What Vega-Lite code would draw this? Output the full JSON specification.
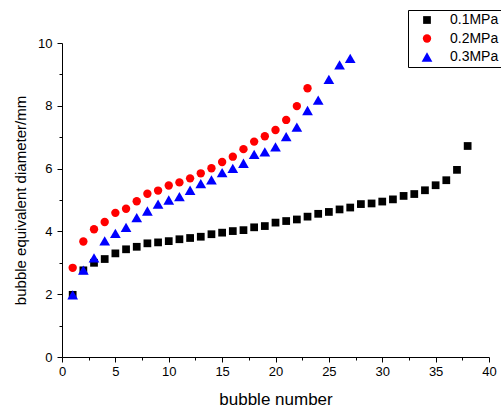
{
  "$schema": "https://vega.github.io/schema/vega-lite/v6.json",
  "width": 427,
  "height": 314,
  "autosize": "none",
  "padding": {"left": 62, "top": 43, "right": 12, "bottom": 55},
  "background": "white",
  "config": {
    "view": {"stroke": null},
    "font": "Liberation Sans",
    "axis": {
      "grid": false,
      "domainColor": "#000000",
      "tickColor": "#000000",
      "labelColor": "#000000",
      "titleColor": "#000000",
      "labelFont": "Liberation Sans",
      "titleFont": "Liberation Sans",
      "titleFontWeight": "normal",
      "labelFontSize": 13,
      "domainWidth": 1,
      "tickWidth": 1,
      "labelFlush": false,
      "labelOverlap": false
    },
    "legend": {
      "labelFont": "Liberation Sans",
      "labelColor": "#000000"
    }
  },
  "data": {
    "values": [
      {"n": 1, "d": 1.98, "series": "0.1MPa"},
      {"n": 2, "d": 2.76, "series": "0.1MPa"},
      {"n": 3, "d": 3.0, "series": "0.1MPa"},
      {"n": 4, "d": 3.12, "series": "0.1MPa"},
      {"n": 5, "d": 3.3, "series": "0.1MPa"},
      {"n": 6, "d": 3.43, "series": "0.1MPa"},
      {"n": 7, "d": 3.51, "series": "0.1MPa"},
      {"n": 8, "d": 3.62, "series": "0.1MPa"},
      {"n": 9, "d": 3.65, "series": "0.1MPa"},
      {"n": 10, "d": 3.69, "series": "0.1MPa"},
      {"n": 11, "d": 3.75, "series": "0.1MPa"},
      {"n": 12, "d": 3.79, "series": "0.1MPa"},
      {"n": 13, "d": 3.83, "series": "0.1MPa"},
      {"n": 14, "d": 3.91, "series": "0.1MPa"},
      {"n": 15, "d": 3.96, "series": "0.1MPa"},
      {"n": 16, "d": 4.01, "series": "0.1MPa"},
      {"n": 17, "d": 4.04, "series": "0.1MPa"},
      {"n": 18, "d": 4.13, "series": "0.1MPa"},
      {"n": 19, "d": 4.17, "series": "0.1MPa"},
      {"n": 20, "d": 4.28, "series": "0.1MPa"},
      {"n": 21, "d": 4.33, "series": "0.1MPa"},
      {"n": 22, "d": 4.38, "series": "0.1MPa"},
      {"n": 23, "d": 4.47, "series": "0.1MPa"},
      {"n": 24, "d": 4.56, "series": "0.1MPa"},
      {"n": 25, "d": 4.62, "series": "0.1MPa"},
      {"n": 26, "d": 4.7, "series": "0.1MPa"},
      {"n": 27, "d": 4.76, "series": "0.1MPa"},
      {"n": 28, "d": 4.87, "series": "0.1MPa"},
      {"n": 29, "d": 4.89, "series": "0.1MPa"},
      {"n": 30, "d": 4.95, "series": "0.1MPa"},
      {"n": 31, "d": 5.02, "series": "0.1MPa"},
      {"n": 32, "d": 5.13, "series": "0.1MPa"},
      {"n": 33, "d": 5.19, "series": "0.1MPa"},
      {"n": 34, "d": 5.31, "series": "0.1MPa"},
      {"n": 35, "d": 5.47, "series": "0.1MPa"},
      {"n": 36, "d": 5.63, "series": "0.1MPa"},
      {"n": 37, "d": 5.96, "series": "0.1MPa"},
      {"n": 38, "d": 6.72, "series": "0.1MPa"},
      {"n": 1, "d": 2.84, "series": "0.2MPa"},
      {"n": 2, "d": 3.68, "series": "0.2MPa"},
      {"n": 3, "d": 4.07, "series": "0.2MPa"},
      {"n": 4, "d": 4.3, "series": "0.2MPa"},
      {"n": 5, "d": 4.59, "series": "0.2MPa"},
      {"n": 6, "d": 4.72, "series": "0.2MPa"},
      {"n": 7, "d": 4.96, "series": "0.2MPa"},
      {"n": 8, "d": 5.2, "series": "0.2MPa"},
      {"n": 9, "d": 5.3, "series": "0.2MPa"},
      {"n": 10, "d": 5.46, "series": "0.2MPa"},
      {"n": 11, "d": 5.56, "series": "0.2MPa"},
      {"n": 12, "d": 5.69, "series": "0.2MPa"},
      {"n": 13, "d": 5.85, "series": "0.2MPa"},
      {"n": 14, "d": 6.01, "series": "0.2MPa"},
      {"n": 15, "d": 6.21, "series": "0.2MPa"},
      {"n": 16, "d": 6.38, "series": "0.2MPa"},
      {"n": 17, "d": 6.62, "series": "0.2MPa"},
      {"n": 18, "d": 6.86, "series": "0.2MPa"},
      {"n": 19, "d": 7.03, "series": "0.2MPa"},
      {"n": 20, "d": 7.23, "series": "0.2MPa"},
      {"n": 21, "d": 7.55, "series": "0.2MPa"},
      {"n": 22, "d": 7.99, "series": "0.2MPa"},
      {"n": 23, "d": 8.56, "series": "0.2MPa"},
      {"n": 1, "d": 1.98, "series": "0.3MPa"},
      {"n": 2, "d": 2.77, "series": "0.3MPa"},
      {"n": 3, "d": 3.16, "series": "0.3MPa"},
      {"n": 4, "d": 3.7, "series": "0.3MPa"},
      {"n": 5, "d": 3.94, "series": "0.3MPa"},
      {"n": 6, "d": 4.13, "series": "0.3MPa"},
      {"n": 7, "d": 4.44, "series": "0.3MPa"},
      {"n": 8, "d": 4.65, "series": "0.3MPa"},
      {"n": 9, "d": 4.87, "series": "0.3MPa"},
      {"n": 10, "d": 5.0, "series": "0.3MPa"},
      {"n": 11, "d": 5.11, "series": "0.3MPa"},
      {"n": 12, "d": 5.31, "series": "0.3MPa"},
      {"n": 13, "d": 5.52, "series": "0.3MPa"},
      {"n": 14, "d": 5.64, "series": "0.3MPa"},
      {"n": 15, "d": 5.87, "series": "0.3MPa"},
      {"n": 16, "d": 6.01, "series": "0.3MPa"},
      {"n": 17, "d": 6.17, "series": "0.3MPa"},
      {"n": 18, "d": 6.45, "series": "0.3MPa"},
      {"n": 19, "d": 6.53, "series": "0.3MPa"},
      {"n": 20, "d": 6.69, "series": "0.3MPa"},
      {"n": 21, "d": 7.02, "series": "0.3MPa"},
      {"n": 22, "d": 7.32, "series": "0.3MPa"},
      {"n": 23, "d": 7.85, "series": "0.3MPa"},
      {"n": 24, "d": 8.18, "series": "0.3MPa"},
      {"n": 25, "d": 8.84, "series": "0.3MPa"},
      {"n": 26, "d": 9.3, "series": "0.3MPa"},
      {"n": 27, "d": 9.51, "series": "0.3MPa"}
    ]
  },
  "layer": [
    {
      "mark": {"type": "point", "filled": true, "opacity": 1},
      "encoding": {
        "x": {
          "field": "n",
          "type": "quantitative",
          "scale": {"domain": [0, 40], "nice": false, "zero": false},
          "axis": {
            "orient": "bottom",
            "values": [0, 5, 10, 15, 20, 25, 30, 35, 40],
            "tickSize": 5,
            "labelPadding": 3,
            "title": "bubble number",
            "titleFontSize": 17,
            "titlePadding": 13
          }
        },
        "y": {
          "field": "d",
          "type": "quantitative",
          "scale": {"domain": [0, 10], "nice": false, "zero": false},
          "axis": {
            "orient": "left",
            "values": [0, 2, 4, 6, 8, 10],
            "tickSize": 5,
            "labelPadding": 5,
            "title": "bubble equivalent diameter/mm",
            "titleFontSize": 15,
            "titlePadding": 9
          }
        },
        "size": {
          "field": "series",
          "type": "nominal",
          "scale": {"type": "ordinal", "domain": ["0.1MPa", "0.2MPa", "0.3MPa"], "range": [60, 70, 115]},
          "legend": null
        },
        "color": {
          "field": "series",
          "type": "nominal",
          "scale": {"domain": ["0.1MPa", "0.2MPa", "0.3MPa"], "range": ["#000000", "#ff0000", "#0000ff"]},
          "legend": {
            "title": null,
            "orient": "none",
            "legendX": 346,
            "legendY": -33,
            "strokeColor": "#000000",
            "fillColor": "#ffffff",
            "padding": 3,
            "symbolOffset": 9,
            "labelOffset": 16,
            "labelFontSize": 14,
            "symbolSize": 95,
            "rowPadding": 4.5,
            "symbolStrokeWidth": 0
          }
        },
        "shape": {
          "field": "series",
          "type": "nominal",
          "scale": {"domain": ["0.1MPa", "0.2MPa", "0.3MPa"], "range": ["square", "circle", "triangle-up"]},
          "legend": {
            "title": null,
            "orient": "none",
            "legendX": 346,
            "legendY": -33,
            "strokeColor": "#000000",
            "fillColor": "#ffffff",
            "padding": 3,
            "symbolOffset": 9,
            "labelOffset": 16,
            "labelFontSize": 14,
            "symbolSize": 95,
            "rowPadding": 4.5,
            "symbolStrokeWidth": 0
          }
        }
      }
    },
    {
      "mark": {"type": "point", "opacity": 0},
      "encoding": {
        "x": {
          "field": "n",
          "type": "quantitative",
          "scale": {"domain": [0, 40], "nice": false, "zero": false},
          "axis": {
            "orient": "bottom",
            "values": [2.5, 7.5, 12.5, 17.5, 22.5, 27.5, 32.5, 37.5],
            "tickSize": 3,
            "labels": false,
            "domain": false,
            "title": null
          }
        },
        "y": {
          "field": "d",
          "type": "quantitative",
          "scale": {"domain": [0, 10], "nice": false, "zero": false},
          "axis": {
            "orient": "left",
            "values": [1, 3, 5, 7, 9],
            "tickSize": 3,
            "labels": false,
            "domain": false,
            "title": null
          }
        }
      }
    }
  ],
  "resolve": {"axis": {"x": "independent", "y": "independent"}}
}
